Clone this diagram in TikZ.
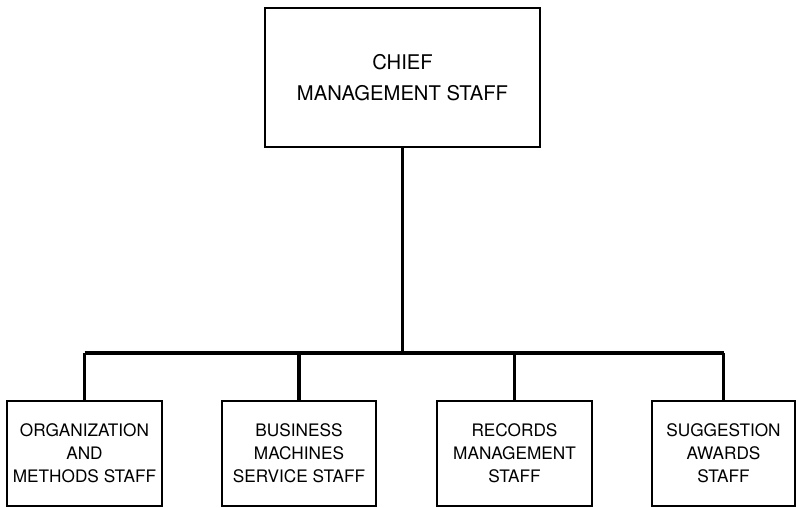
\documentclass[tikz,border=0pt]{standalone}
\usepackage{fontspec}
\setmainfont{TeX Gyre Heros}
\usepackage{tikz}
\usetikzlibrary{calc}

\tikzset{
  unitbox/.style={draw, line width=0.9pt, inner sep=0pt, align=center},
  feed/.style={line width=1.8pt}
}

\begin{document}
\begin{tikzpicture}
    \useasboundingbox (0,0) rectangle (15.92,10.16);
    \node [unitbox, minimum width=5.5cm, minimum height=2.78cm,
           font=\fontsize{11.5}{17.6}\selectfont] (chief) at (8.05,8.61)
          {CHIEF\\MANAGEMENT STAFF};
    \node [unitbox, minimum width=3.1cm, minimum height=2.1cm,
           font=\fontsize{9.8}{13}\selectfont] (om) at (1.69,1.09)
          {ORGANIZATION\\AND\\METHODS STAFF};
    \node [unitbox, minimum width=3.08cm, minimum height=2.1cm,
           font=\fontsize{9.8}{13}\selectfont] (bm) at (5.98,1.09)
          {BUSINESS\\MACHINES\\SERVICE STAFF};
    \node [unitbox, minimum width=3.1cm, minimum height=2.1cm,
           font=\fontsize{9.8}{13}\selectfont] (rm) at (10.29,1.09)
          {RECORDS\\MANAGEMENT\\STAFF};
    \node [unitbox, minimum width=2.86cm, minimum height=2.1cm,
           font=\fontsize{9.8}{13}\selectfont] (sa) at (14.47,1.09)
          {SUGGESTION\\AWARDS\\STAFF};
    % the bar under the chief
    \coordinate (j) at (8.05,3.1);
    \coordinate (j1) at (om.north |- j);
    \coordinate (j4) at (sa.north |- j);
    \draw [feed] (chief.south) -- (j);
    \draw [feed] (j1) -- (j4);
    \draw [feed] (om.north) -- (j1);
    \draw [feed] (bm.north) -- (bm.north |- j);
    \draw [feed] (rm.north) -- (rm.north |- j);
    \draw [feed] (sa.north) -- (j4);
\end{tikzpicture}
\end{document}
